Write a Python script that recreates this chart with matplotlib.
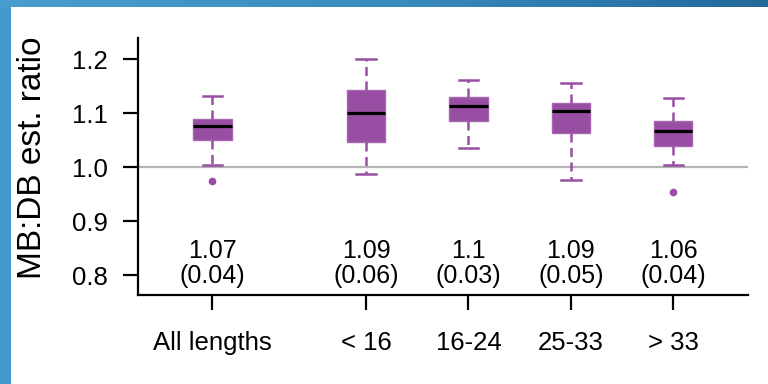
import numpy as np
import matplotlib
matplotlib.use("Agg")
import matplotlib.pyplot as plt
from matplotlib.colors import LinearSegmentedColormap

plt.rcParams['font.family'] = ['Liberation Sans', 'DejaVu Sans']

# Groups and box summaries (MB:DB estimate ratio)
groups = ["All lengths", "< 16", "16-24", "25-33", "> 33"]
positions = [1.0, 2.5, 3.5, 4.5, 5.5]
whisker_lo = [1.004, 0.987, 1.035, 0.977, 1.004]
q1 = [1.051, 1.047, 1.085, 1.063, 1.040]
medians = [1.077, 1.100, 1.113, 1.105, 1.067]
q3 = [1.089, 1.143, 1.130, 1.119, 1.085]
whisker_hi = [1.132, 1.200, 1.161, 1.156, 1.128]
outliers = [[0.975], [], [], [], [0.954]]

# Mean and standard deviation printed under each box
means = [1.07, 1.09, 1.10, 1.09, 1.06]
sds = [0.04, 0.06, 0.03, 0.05, 0.04]

yticks = [0.8, 0.9, 1.0, 1.1, 1.2]

purple = "#984EA3"

W, H = 768, 384
fig = plt.figure(figsize=(W / 100, H / 100), dpi=100)

# Blue frame: solid strip on the left, gradient band along the top
left_ax = fig.add_axes([0, 0, 11 / W, 1])
left_ax.set_axis_off()
left_ax.add_patch(plt.Rectangle((0, 0), 1, 1, color="#4399cc", transform=left_ax.transAxes))
top_ax = fig.add_axes([0, 1 - 7 / H, 1, 7 / H])
top_ax.set_axis_off()
grad_cmap = LinearSegmentedColormap.from_list("band", ["#4a9dcf", "#3a8cbf", "#23699a"])
top_ax.imshow(np.linspace(0, 1, 256)[None, :], aspect="auto", cmap=grad_cmap,
              extent=[0, 1, 0, 1])

ax = fig.add_axes([138 / W, 1 - 295 / H, 610 / W, 257 / H])

stats = []
for i in range(len(groups)):
    stats.append(dict(med=medians[i], q1=q1[i], q3=q3[i],
                      whislo=whisker_lo[i], whishi=whisker_hi[i],
                      fliers=outliers[i]))

ax.axhline(1.0, color="#b3b3b3", lw=1.6, zorder=0)

ax.bxp(stats, positions=positions, widths=0.375, capwidths=0.19,
       patch_artist=True, showfliers=True,
       boxprops=dict(facecolor=purple, edgecolor="#a966b2", linewidth=1.0),
       medianprops=dict(color="black", linewidth=2.3),
       whiskerprops=dict(color=purple, linewidth=1.8, linestyle=(0, (3.6, 2.2))),
       capprops=dict(color=purple, linewidth=1.8),
       flierprops=dict(marker="o", markerfacecolor=purple, markeredgecolor=purple,
                       markersize=4.5))

for x, m, s in zip(positions, means, sds):
    ax.text(x, 0.8308, f"{round(m, 2):g}", ha="center", va="baseline", fontsize=18)
    ax.text(x, 0.7855, f"({s:.2f})", ha="center", va="baseline", fontsize=18)

ax.set_xlim(0.2725, 6.23)
ax.set_ylim(0.763, 1.2395)
ax.set_xticks(positions)
ax.set_xticklabels(groups, fontsize=18.5)
ax.set_yticks(yticks)
ax.set_yticklabels([f"{v:.1f}" for v in yticks], fontsize=18.5)

for side in ("top", "right"):
    ax.spines[side].set_visible(False)
for side in ("left", "bottom"):
    ax.spines[side].set_linewidth(1.6)
ax.tick_params(axis="both", length=11, width=1.6, color="black")
ax.tick_params(axis="y", pad=11)
ax.tick_params(axis="x", pad=15)

fig.text(33 / W, 1 - 157.5 / H, "MB:DB est. ratio", rotation=90,
         ha="center", va="center", fontsize=24)

fig.savefig("out.png", dpi=100)
